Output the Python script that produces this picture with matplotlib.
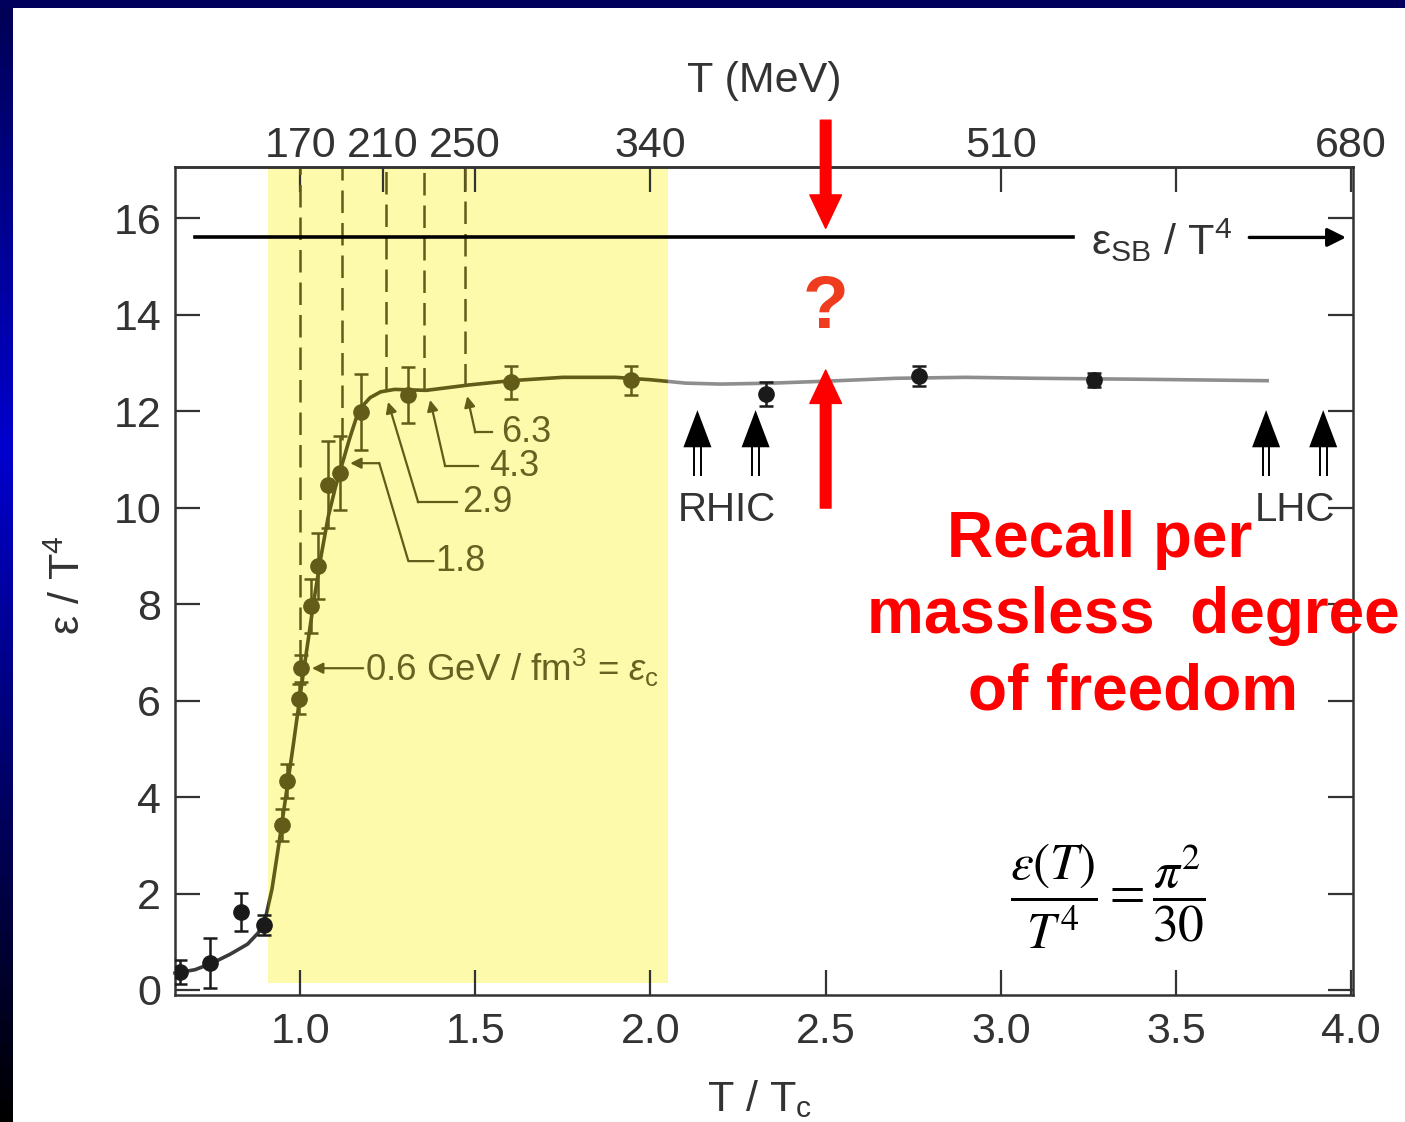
import numpy as np
import matplotlib
matplotlib.use("Agg")
import matplotlib.pyplot as plt
from matplotlib.patches import Rectangle, Polygon

plt.rcParams["font.family"] = ["Liberation Sans", "DejaVu Sans"]
plt.rcParams["mathtext.fontset"] = "custom"
plt.rcParams["mathtext.rm"] = "Liberation Sans"
plt.rcParams["mathtext.it"] = "Liberation Sans:italic"
plt.rcParams["mathtext.bf"] = "Liberation Sans:bold"

# Lattice QCD energy density, eps/T^4 versus T/Tc
t_ratio = [0.657, 0.743, 0.831, 0.897, 0.949, 0.963, 0.997, 1.003, 1.031,
           1.051, 1.080, 1.114, 1.174, 1.309, 1.603, 1.943, 2.329, 2.766, 3.266]
eps_t4 = [0.37, 0.56, 1.62, 1.35, 3.42, 4.33, 6.03, 6.67, 7.96,
          8.79, 10.47, 10.71, 11.98, 12.33, 12.60, 12.64, 12.35, 12.73, 12.64]
eps_err = [0.25, 0.52, 0.40, 0.20, 0.34, 0.36, 0.31, 0.28, 0.55,
           0.68, 0.90, 0.77, 0.79, 0.58, 0.34, 0.30, 0.25, 0.20, 0.15]

# Fitted curve through the lattice points
curve_x = [0.643, 0.70, 0.75, 0.80, 0.85, 0.88, 0.90, 0.92, 0.94, 0.96, 0.98,
           1.00, 1.02, 1.04, 1.06, 1.08, 1.10, 1.12, 1.14, 1.16, 1.18, 1.20,
           1.23, 1.27, 1.36, 1.48, 1.60, 1.75, 1.90, 2.00, 2.10, 2.20, 2.35,
           2.50, 2.70, 2.90, 3.10, 3.40, 3.76]
curve_y = [0.35, 0.42, 0.56, 0.74, 0.95, 1.18, 1.45, 2.10, 3.05, 4.05, 5.05,
           6.10, 7.10, 8.10, 9.00, 9.80, 10.40, 10.90, 11.40, 11.85, 12.12, 12.28,
           12.40, 12.45, 12.43, 12.54, 12.63, 12.70, 12.70, 12.65, 12.58, 12.56, 12.58,
           12.62, 12.68, 12.70, 12.68, 12.66, 12.63]

# Stefan-Boltzmann limit
eps_sb = 15.6

# Temperature scale (MeV) with Tc = 170 MeV
tc_mev = 170
top_ticks_mev = [170, 210, 250, 340, 510, 680]
top_minor_mev = [255, 425, 595]

# Energy densities (GeV/fm^3) marked by dashed lines
dash_x = [1.0, 1.12, 1.246, 1.354, 1.471]
dash_top = [6.8, 11.4, 12.45, 12.43, 12.52]
density_labels = ["1.8", "2.9", "4.3", "6.3"]

# Collider reach
rhic_x = [2.134, 2.30]
lhc_x = [3.757, 3.92]

# Transition band
band_x = (0.909, 2.049)

OLIVE = "#625c18"
OLIVE_TXT = "#676122"
INK = "#333333"
YELLOW = "#fdfbab"

fig = plt.figure(figsize=(14.05, 11.22), dpi=100)

# slide frame: blue strip on the left and along the top
strip = fig.add_axes([0, 0, 13 / 1405, 1])
rgb = np.zeros((100, 1, 3))
rgb[:, 0, 2] = np.concatenate([np.linspace(0.33, 0.80, 40),
                               np.linspace(0.80, 0.0, 60)])
strip.imshow(rgb, aspect="auto", extent=(0, 1, 0, 1))
strip.axis("off")
top = fig.add_axes([0, 1 - 8 / 1122, 1, 8 / 1122])
top.set_facecolor("#00005c")
top.set_xticks([]); top.set_yticks([])
for s in top.spines.values():
    s.set_visible(False)

ax = fig.add_axes([175 / 1405, 1 - 995 / 1122, 1178 / 1405, 828 / 1122])
ax.set_xlim(0.643, 4.005)
ax.set_ylim(-0.104, 17.06)

# yellow transition band
ax.add_patch(Rectangle((band_x[0], 0.15), band_x[1] - band_x[0], 17.06 - 0.15,
                       facecolor=YELLOW, edgecolor="none", zorder=0))

# curve, coloured by region
regions = [((0.6, band_x[0]), "#3a3a3a"),
           ((band_x[0], band_x[1]), OLIVE),
           ((band_x[1], 4.1), "#8e8e8e")]
for (x0, x1), col in regions:
    ln, = ax.plot(curve_x, curve_y, color=col, lw=2.6, zorder=2)
    clip = Rectangle((x0, -1), x1 - x0, 20, transform=ax.transData)
    ln.set_clip_path(clip)

# dashed energy-density markers
for x, yt in zip(dash_x, dash_top):
    ax.plot([x, x], [yt, 17.06], color=OLIVE, lw=1.8, ls=(0, (9, 4)), zorder=2)

# data points with errors
for x, y, e in zip(t_ratio, eps_t4, eps_err):
    col = OLIVE if band_x[0] <= x <= band_x[1] else "#1a1a1a"
    ax.errorbar([x], [y], yerr=[e], fmt="o", color=col, ms=11, capsize=5,
                elinewidth=1.8, capthick=1.8, zorder=4)

# Stefan-Boltzmann line and label
ax.plot([0.70, 3.206], [eps_sb, eps_sb], color="black", lw=2.6, zorder=5)
ax.text(3.257, eps_sb - 0.06, r"ε$_{\mathrm{SB}}$ / T$^4$", color=INK,
        fontsize=31, va="center", ha="left", zorder=5)
ax.annotate("", xy=(3.985, eps_sb), xytext=(3.709, eps_sb),
            arrowprops=dict(arrowstyle="-|>", color="black", lw=2.4,
                            mutation_scale=28, shrinkA=0, shrinkB=0), zorder=5)

# leaders to the energy-density labels
leaders = [
    ([(1.380, 8.89), (1.309, 8.89), (1.226, 10.92)], (1.143, 10.92), (1.386, 8.89)),
    ([(1.449, 10.11), (1.337, 10.11)], (1.251, 12.19), (1.463, 10.11)),
    ([(1.509, 10.86), (1.414, 10.86)], (1.371, 12.23), (1.540, 10.86)),
    ([(1.549, 11.56), (1.500, 11.56)], (1.477, 12.31), (1.574, 11.56)),
]
for (path, tip, tpos), lab in zip(leaders, density_labels):
    px, py = zip(*path)
    ax.plot(px, py, color=OLIVE, lw=1.6, zorder=3)
    ax.annotate("", xy=tip, xytext=path[-1],
                arrowprops=dict(arrowstyle="-|>", color=OLIVE, lw=1.6,
                                mutation_scale=16, shrinkA=0, shrinkB=0), zorder=3)
    ax.text(tpos[0], tpos[1], lab, color=OLIVE_TXT, fontsize=26,
            va="center", ha="left", zorder=3)

ax.annotate("", xy=(1.034, 6.67), xytext=(1.180, 6.67),
            arrowprops=dict(arrowstyle="-|>", color=OLIVE, lw=1.6,
                            mutation_scale=16, shrinkA=0, shrinkB=0), zorder=3)
ax.text(1.186, 6.67, r"0.6 GeV / fm$^3$ = $\varepsilon_{\mathrm{c}}$",
        color=OLIVE_TXT, fontsize=26.5, va="center", ha="left", zorder=3)


def collider_arrow(x):
    dx = 0.0095
    for off in (-dx, dx):
        ax.plot([x + off, x + off], [10.67, 11.3], color="black", lw=1.4, zorder=4)
    ax.add_patch(Polygon([(x - 0.040, 11.25), (x + 0.040, 11.25), (x, 12.02)],
                         closed=True, facecolor="black", edgecolor="none", zorder=4))


for x in rhic_x + lhc_x:
    collider_arrow(x)
ax.text(np.mean(rhic_x), 9.95, "RHIC", color=INK, fontsize=29,
        ha="center", va="center", zorder=4)
ax.text(np.mean(lhc_x), 9.95, "LHC", color=INK, fontsize=29,
        ha="center", va="center", zorder=4)

# red question markers
ax.annotate("", xy=(2.5, 15.79), xytext=(2.5, 18.03), annotation_clip=False,
            arrowprops=dict(arrowstyle="simple,head_width=0.95,head_length=1.0,tail_width=0.32",
                            color="red", mutation_scale=24, shrinkA=0, shrinkB=0),
            zorder=6)
ax.annotate("", xy=(2.5, 12.85), xytext=(2.5, 9.99), annotation_clip=False,
            arrowprops=dict(arrowstyle="simple,head_width=0.95,head_length=1.0,tail_width=0.32",
                            color="red", mutation_scale=24, shrinkA=0, shrinkB=0),
            zorder=6)
ax.text(2.5, 14.13, "?", color="#f03c1e", fontsize=54, fontweight="bold",
        ha="center", va="center", zorder=6)

# axes styling
ax.set_xticks([1.0, 1.5, 2.0, 2.5, 3.0, 3.5, 4.0])
ax.set_xticklabels(["1.0", "1.5", "2.0", "2.5", "3.0", "3.5", "4.0"])
ax.set_yticks(range(0, 17, 2))
ax.tick_params(axis="both", direction="in", length=18, width=1.6,
               colors=INK, labelsize=31, labelcolor=INK)
ax.tick_params(axis="x", pad=12, top=False)
ax.tick_params(axis="y", pad=10, right=True)
for s in ax.spines.values():
    s.set_color(INK)
    s.set_linewidth(1.8)
ax.set_xlabel(r"T / T$_{\mathrm{c}}$", fontsize=31, color=INK)
ax.xaxis.set_label_coords(0.4966, -0.101)
ax.set_ylabel(r"ε / T$^4$", fontsize=31, color=INK)
ax.yaxis.set_label_coords(-0.073, 0.495)

secax = ax.secondary_xaxis("top", functions=(lambda x: x * tc_mev,
                                             lambda t: t / tc_mev))
secax.set_xticks(top_ticks_mev)
secax.set_xticklabels([str(v) for v in top_ticks_mev])
secax.set_xticks(top_minor_mev, minor=True)
secax.tick_params(axis="x", which="both", direction="in", length=18, width=1.6,
                  colors=INK, labelsize=31, labelcolor=INK, pad=1)
secax.spines["top"].set_color(INK)
secax.spines["top"].set_linewidth(1.8)
secax.set_xlabel("T (MeV)", fontsize=31, color=INK, labelpad=24)

# formula and remark
fig.text(1108 / 1405, 1 - 896 / 1122,
         r"$\dfrac{\varepsilon(T)}{T^4} = \dfrac{\pi^2}{30}$",
         math_fontfamily="stix", fontsize=37, ha="center", va="center",
         color="black")
red_lines = [("Recall per", 1100, 557), ("massless  degree", 1133, 633),
             ("of freedom", 1133, 710)]
for txt, cx, base in red_lines:
    fig.text(cx / 1405, 1 - base / 1122, txt, color="red", fontsize=46,
             fontweight="bold", ha="center", va="baseline")

fig.savefig("out.png", dpi=100)
